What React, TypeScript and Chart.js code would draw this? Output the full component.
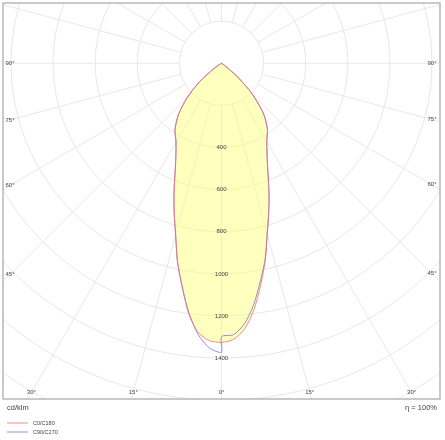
import { useEffect, useRef } from 'react';
import { Chart, registerables } from 'chart.js';

Chart.register(...registerables);

// gamma angles (deg from nadir) and intensities in cd/klm per C-plane
const gammaAngles = [0, 2.5, 5, 7.5, 10, 12.5, 15, 17.5, 20, 25, 30, 35, 40, 45, 50, 55, 60, 90];
const c0Values = [1327, 1312, 1265, 1180, 1070, 960, 840, 745, 660, 515, 430, 380, 308, 205, 95, 15, 0, 0];
const c180Values = [1327, 1318, 1282, 1198, 1075, 965, 842, 747, 660, 515, 432, 385, 318, 230, 135, 45, 0, 0];
const c90Values = [1298, 1290, 1243, 1160, 1055, 955, 838, 745, 660, 515, 430, 380, 308, 205, 95, 15, 0, 0];
const c270Values = [1372, 1352, 1290, 1192, 1078, 966, 842, 747, 660, 515, 432, 385, 318, 230, 135, 45, 0, 0];

const ringValues = [200, 400, 600, 800, 1000, 1200, 1400, 1600, 1800, 2000];
const ringLabels = [400, 600, 800, 1000, 1200, 1400];
const sideAngles = [90, 75, 60, 45];
const bottomAngles = [-30, -15, 0, 15, 30];
const seriesNames = ['C0/C180', 'C90/C270'];
const unitLabel = 'cd/klm';
const efficiencyLabel = 'η = 100%';

const toRad = (d: number) => (d * Math.PI) / 180;

// left half runs from 90° down to nadir, right half from nadir back up
const planePoints = (left: number[], right: number[]) => [
  ...gammaAngles
    .map((g, i) => ({ x: -left[i] * Math.sin(toRad(g)), y: left[i] * Math.cos(toRad(g)) }))
    .reverse(),
  ...gammaAngles.map((g, i) => ({ x: right[i] * Math.sin(toRad(g)), y: right[i] * Math.cos(toRad(g)) })),
];

const RED = 'rgba(236, 110, 110, 0.8)';
const BLUE = 'rgba(118, 118, 222, 0.8)';
const FONT = '"Liberation Sans", Arial, sans-serif';

const polarPlugin = {
  id: 'polarGrid',
  beforeDraw(chart: any) {
    const { ctx, chartArea: a, scales } = chart;
    const cx = scales.x.getPixelForValue(0);
    const cy = scales.y.getPixelForValue(0);
    const k = (scales.x.getPixelForValue(1000) - cx) / 1000;
    ctx.save();
    ctx.fillStyle = '#fff';
    ctx.fillRect(0, 0, chart.width, chart.height);
    ctx.beginPath();
    ctx.rect(a.left, a.top, a.right - a.left, a.bottom - a.top);
    ctx.clip();
    ctx.strokeStyle = '#e8e8e8';
    ctx.lineWidth = 1;
    ringValues.forEach((r) => {
      ctx.beginPath();
      ctx.arc(cx, cy, r * k, 0, Math.PI * 2);
      ctx.stroke();
    });
    for (let d = 0; d < 360; d += 15) {
      const s = Math.sin(toRad(d));
      const c = Math.cos(toRad(d));
      ctx.beginPath();
      ctx.moveTo(cx + s * 200 * k, cy + c * 200 * k);
      ctx.lineTo(cx + s * 3000 * k, cy + c * 3000 * k);
      ctx.stroke();
    }
    ctx.restore();
  },
  afterDatasetsDraw(chart: any) {
    const { ctx, chartArea: a, scales } = chart;
    const cx = scales.x.getPixelForValue(0);
    const cy = scales.y.getPixelForValue(0);
    const k = (scales.x.getPixelForValue(1000) - cx) / 1000;
    ctx.save();
    ctx.fillStyle = '#444';
    ctx.textBaseline = 'middle';
    ctx.textAlign = 'center';
    ctx.font = `6px ${FONT}`;
    ringLabels.forEach((r) => ctx.fillText(String(r), cx, cy + r * k));

    const xl = a.left + 7;
    const xr = a.right - 8;
    sideAngles.forEach((d) => {
      const t = Math.cos(toRad(d)) / Math.sin(toRad(d));
      ctx.fillText(`${d}°`, xl, cy + (cx - xl) * t);
      ctx.fillText(`${d}°`, xr, cy + (xr - cx) * t);
    });
    const yb = a.bottom - 6.5;
    bottomAngles.forEach((d) => {
      ctx.fillText(`${Math.abs(d)}°`, cx + (yb - cy) * Math.tan(toRad(d)), yb);
    });

    ctx.strokeStyle = '#adadad';
    ctx.lineWidth = 1.3;
    ctx.strokeRect(a.left, a.top, a.right - a.left, a.bottom - a.top);

    ctx.font = `7.5px ${FONT}`;
    ctx.textAlign = 'left';
    ctx.fillText(unitLabel, 7, a.bottom + 9);
    ctx.textAlign = 'right';
    ctx.fillText(efficiencyLabel, a.right - 3, a.bottom + 9);

    ctx.font = `5.5px ${FONT}`;
    ctx.textAlign = 'left';
    chart.data.datasets.forEach((ds: any, i: number) => {
      const y = a.bottom + 24 + i * 9;
      ctx.strokeStyle = ds.borderColor;
      ctx.lineWidth = 1;
      ctx.beginPath();
      ctx.moveTo(7, y);
      ctx.lineTo(28, y);
      ctx.stroke();
      ctx.fillText(ds.label, 33, y);
    });
    ctx.restore();
  },
};

const App = () => {
  const canvasRef = useRef<HTMLCanvasElement | null>(null);
  const chartRef = useRef<Chart | null>(null);

  useEffect(() => {
    if (!canvasRef.current) return;
    if (chartRef.current) chartRef.current.destroy();

    chartRef.current = new Chart(canvasRef.current, {
      type: 'scatter',
      data: {
        datasets: [
          {
            label: seriesNames[0],
            data: planePoints(c180Values, c0Values),
            showLine: true,
            tension: 0.25,
            borderColor: RED,
            borderWidth: 1,
            pointRadius: 0,
            fill: 'shape',
            backgroundColor: 'rgba(255, 255, 110, 0.45)',
          },
          {
            label: seriesNames[1],
            data: planePoints(c270Values, c90Values),
            showLine: true,
            tension: 0.25,
            borderColor: BLUE,
            borderWidth: 1,
            pointRadius: 0,
            fill: false,
          },
        ],
      },
      options: {
        animation: false,
        responsive: true,
        maintainAspectRatio: false,
        layout: { padding: { left: 3, top: 3, right: 5, bottom: 41 } },
        scales: {
          x: { type: 'linear', min: -1037.5, max: 1037.5, display: false },
          y: { type: 'linear', min: -286, max: 1594, reverse: true, display: false },
        },
        plugins: {
          legend: { display: false },
          tooltip: { enabled: false },
          filler: { drawTime: 'beforeDatasetsDraw' },
        },
      },
      plugins: [polarPlugin],
    });

    return () => {
      if (chartRef.current) {
        chartRef.current.destroy();
        chartRef.current = null;
      }
    };
  }, []);

  return (
    <div style={{ position: 'absolute', left: 0, top: 0, width: '445px', height: '440px' }}>
      <canvas ref={canvasRef} />
    </div>
  );
};

export default App;
